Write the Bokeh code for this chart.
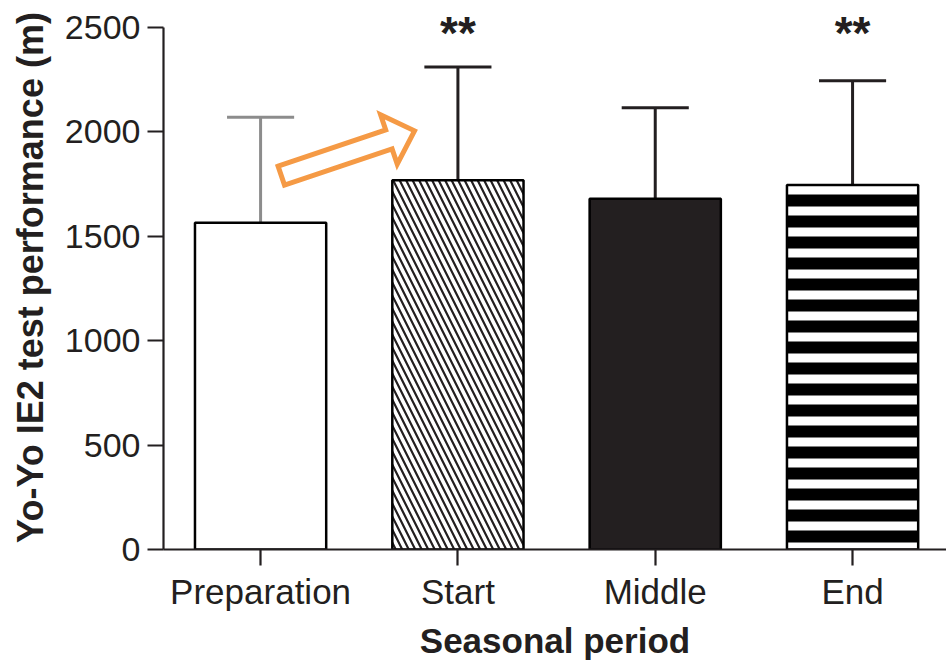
import numpy as np
from bokeh.plotting import figure
from bokeh.models import Range1d, FixedTicker
from bokeh.embed import file_html
from bokeh.resources import INLINE
from bokeh.core.properties import value

# Yo-Yo IE2 test performance (m) across the season: mean and mean + SD
periods = ["Preparation", "Start", "Middle", "End"]
mean_m = [1565, 1768, 1680, 1745]
mean_plus_sd = [2070, 2310, 2115, 2245]
significance = ["", "**", "", "**"]
y_ticks = [0, 500, 1000, 1500, 2000, 2500]

FONT = "Liberation Sans"
INK = "#231F20"
ORANGE = "#F59A45"

# page / frame geometry
W, H = 946, 665
B_LEFT, B_RIGHT, B_TOP, B_BOTTOM = 163, 0, 5, 116
X_START, X_END = 0.008, 3.976
Y_END = 2605
frame_w = W - B_LEFT - B_RIGHT
frame_h = H - B_TOP - B_BOTTOM
px_x = frame_w / (X_END - X_START)
px_y = frame_h / Y_END

positions = np.arange(len(periods)) + 0.5

p = figure(width=W, height=H, output_backend="svg", toolbar_location=None,
           x_range=Range1d(X_START, X_END), y_range=Range1d(0, Y_END),
           min_border_left=B_LEFT, min_border_right=B_RIGHT,
           min_border_top=B_TOP, min_border_bottom=B_BOTTOM)
p.outline_line_color = None
p.xgrid.visible = False
p.ygrid.visible = False
p.background_fill_color = "white"
p.border_fill_color = "white"

# error bars (upper half only), drawn under the bars
err_colors = ["#8C8C8C", INK, INK, INK]
cap_half = 0.17
p.segment(x0=positions, y0=mean_m, x1=positions, y1=mean_plus_sd,
          line_color=err_colors, line_width=3)
p.segment(x0=positions - cap_half, y0=mean_plus_sd, x1=positions + cap_half,
          y1=mean_plus_sd, line_color=err_colors, line_width=3)

# bars, one style per seasonal period
bar_w = 0.665
styles = [
    dict(fill_color="white"),
    dict(fill_color="white", hatch_pattern="\\", hatch_scale=13, hatch_weight=2.2,
         hatch_color=INK),
    dict(fill_color=INK),
    dict(fill_color="white", hatch_pattern="-", hatch_scale=21, hatch_weight=12,
         hatch_color="black"),
]
for x, top, st in zip(positions, mean_m, styles):
    p.vbar(x=[x], top=[top], bottom=0, width=bar_w, line_color="black",
           line_width=2.5, **st)

# significance markers
p.text(x=positions, y=[2472] * len(positions), text=significance,
       text_align="center", text_baseline="alphabetic",
       text_font=value(FONT), text_font_style="bold", text_font_size="46px",
       text_color=INK)

# hollow block arrow from Preparation towards Start
tail = (positions[0] + 0.105, 1790)
tip = (positions[1] - 0.22, 2005)
dx = (tip[0] - tail[0]) * px_x
dy = (tip[1] - tail[1]) * px_y
L = np.hypot(dx, dy)
u = np.array([dx, dy]) / L
n = np.array([-u[1], u[0]])
shaft, head_w, head_len = 10, 26, 27
outline = [(0, shaft), (L - head_len, shaft), (L - head_len, head_w), (L, 0),
           (L - head_len, -head_w), (L - head_len, -shaft), (0, -shaft)]
ax = [tail[0] + (a * u[0] + b * n[0]) / px_x for a, b in outline]
ay = [tail[1] + (a * u[1] + b * n[1]) / px_y for a, b in outline]
p.patch(ax, ay, fill_alpha=0, line_color=ORANGE, line_width=5, line_join="miter")

# axes
for axis in (p.xaxis[0], p.yaxis[0]):
    axis.axis_line_width = 2.2
    axis.axis_line_color = INK
    axis.major_tick_line_width = 2.2
    axis.major_tick_line_color = INK
    axis.major_tick_in = 0
    axis.major_tick_out = 16
    axis.minor_tick_line_color = None
    axis.major_label_text_font = FONT
    axis.major_label_text_color = INK
    axis.axis_label_text_font = FONT
    axis.axis_label_text_font_style = "bold"
    axis.axis_label_text_color = INK

yax = p.yaxis[0]
yax.ticker = FixedTicker(ticks=y_ticks)
yax.bounds = (0, 2500)
yax.major_label_standoff = 7
yax.major_label_text_font_size = "34px"
yax.axis_label = "Yo-Yo IE2 test performance (m)"
yax.axis_label_text_font_size = "36px"
yax.axis_label_standoff = 11

xax = p.xaxis[0]
xax.ticker = FixedTicker(ticks=list(positions))
xax.major_label_overrides = {float(x): name for x, name in zip(positions, periods)}
xax.major_label_standoff = 6
xax.major_label_text_font_size = "35px"
xax.axis_label = "Seasonal period"
xax.axis_label_text_font_size = "35px"
xax.axis_label_standoff = 7

open("out.html", "w").write(file_html(p, INLINE))
